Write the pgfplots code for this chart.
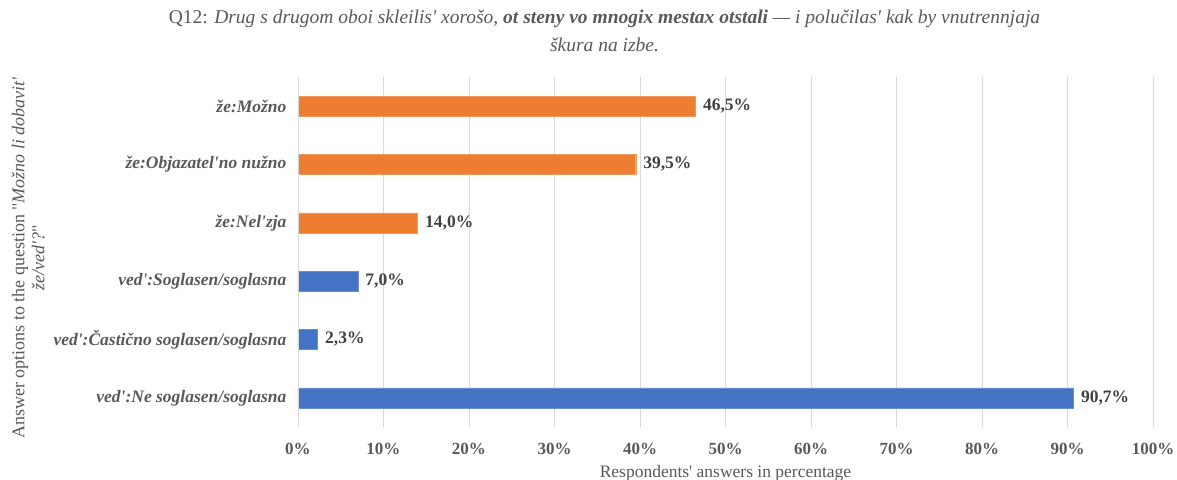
\documentclass[border=0pt]{standalone}
\usepackage{fontspec}
\setmainfont{Liberation Serif}[Ligatures=TeXOff]
\usepackage{pgfplots}
\pgfplotsset{compat=1.18}
\definecolor{cOr}{HTML}{ED7D31}
\definecolor{cBl}{HTML}{4472C4}
\definecolor{cGrid}{HTML}{D9D9D9}
\definecolor{cTxt}{HTML}{595959}
\definecolor{cLab}{HTML}{404040}
\begin{document}
\begin{tikzpicture}
\useasboundingbox (-298pt,-52pt) rectangle (879pt,427pt);
\begin{axis}[
  at={(0,0)}, anchor=south west,
  scale only axis,
  width=855pt, height=350pt,
  xbar, bar width=20pt, bar shift=0pt,
  xmin=0, xmax=100,
  ymin=-0.5, ymax=5.5,
  xtick={0,10,...,100},
  xticklabels={0\%,10\%,20\%,30\%,40\%,50\%,60\%,70\%,80\%,90\%,100\%},
  ytick={0,1,2,3,4,5},
  yticklabels={ved':Ne soglasen/soglasna, ved':Častično soglasen/soglasna, ved':Soglasen/soglasna, že:Nel'zja, že:Objazatel'no nužno, že:Možno},
  xmajorgrids, major grid style={cGrid, line width=0.8pt},
  axis line style={draw=none},
  major tick length=0pt,
  /pgf/number format/assume math mode=true,
  tick label style={font=\fontsize{17}{20}\selectfont\bfseries, text=cTxt},
  yticklabel style={font=\fontsize{17.5}{20}\selectfont\bfseries\itshape, text=cTxt, xshift=-8pt},
  xticklabel style={yshift=-13pt},
  xlabel={Respondents' answers in percentage},
  xlabel style={font=\fontsize{17.5}{20}\selectfont, text=cTxt, yshift=-3pt},
  ylabel={Answer options to the question "\textit{Možno li dobavit'}\\\textit{že/ved'?}"},
  ylabel style={font=\fontsize{18}{20}\selectfont, text=cTxt, align=center, yshift=2pt, xshift=-6pt},
  title={Q12: \textit{Drug s drugom oboi skleilis' xorošo, \textbf{ot steny vo mnogix mestax otstali} — i polučilas' kak by vnutrennjaja}\\\textit{škura na izbe.}},
  title style={font=\fontsize{19.5}{28}\selectfont, text=cTxt, align=center, yshift=16pt, xshift=-121pt},
  nodes near coords,
  point meta=explicit symbolic,
  every node near coord/.append style={font=\fontsize{17.5}{20}\selectfont\bfseries, text=cLab, anchor=west, xshift=4pt},
  clip=false,
]
\addplot[fill=cBl, draw=cBl!80!white] coordinates {
  (90.7,0) [90,7\%]
  (2.3,1) [2,3\%]
  (7.0,2) [7,0\%]
};
\addplot[fill=cOr, draw=cOr!80!white] coordinates {
  (14.0,3) [14,0\%]
  (39.5,4) [39,5\%]
  (46.5,5) [46,5\%]
};
\draw[cGrid, line width=0.8pt] (axis cs:0,-0.5) -- (axis cs:0,5.5);
\end{axis}
\end{tikzpicture}
\end{document}
